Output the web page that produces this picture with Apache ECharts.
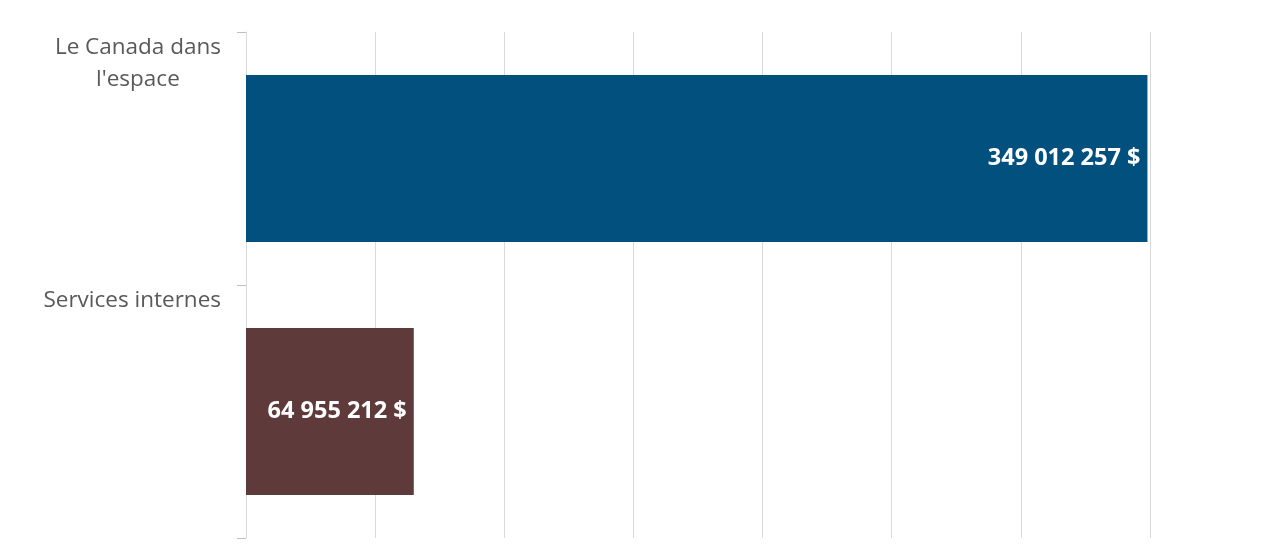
<!DOCTYPE html>
<html>
<head>
<meta charset="utf-8">
<script src="https://cdn.jsdelivr.net/npm/echarts@6/dist/echarts.min.js"></script>
<style>
  html, body { margin: 0; padding: 0; background: #fff; }
  #chart { width: 1280px; height: 560px; }
</style>
</head>
<body>
<div id="chart"></div>
<script>
var categories = ["Le Canada dans\nl'espace", 'Services internes'];
var values = [349012257, 64955212];
var barColors = ['#01507e', '#5e3a3b'];

function fmtDollars(v) {
    return String(v).replace(/\B(?=(\d{3})+(?!\d))/g, ' ') + ' $';
}

var myChart = echarts.init(document.getElementById('chart'));

var option = {
    animation: false,
    grid: { left: 246, right: 130, top: 32, bottom: 22 },
    xAxis: {
        type: 'value',
        min: 0,
        max: 350000000,
        interval: 50000000,
        axisLabel: { show: false },
        axisLine: { show: false },
        axisTick: { show: false },
        splitLine: { lineStyle: { color: '#d9d9d9', width: 1 } }
    },
    yAxis: {
        type: 'category',
        inverse: true,
        data: categories,
        axisLine: { show: true, lineStyle: { color: '#d9d9d9' } },
        axisTick: { show: true, length: 9, lineStyle: { color: '#bfbfbf' } },
        axisLabel: {
            margin: 25,
            verticalAlign: 'bottom',
            hideOverlap: false,
            formatter: function (v, i) {
                // lines of the name, then a blank spacer that lifts the text to the top of its band
                var lines = v.split('\n').map(function (s) { return '{c|' + s + '}'; });
                lines.push(i === 0 ? '{s1| }' : '{s2| }');
                return lines.join('\n');
            },
            rich: {
                c: { align: 'center', fontFamily: 'Open Sans', fontSize: 22.5, lineHeight: 32, color: '#595959' },
                s1: { height: 63, lineHeight: 63, fontSize: 1 },
                s2: { height: 95, lineHeight: 95, fontSize: 1 }
            }
        }
    },
    series: [{
        type: 'bar',
        barWidth: '66%',
        data: values.map(function (v, i) {
            return { value: v, itemStyle: { color: barColors[i] } };
        }),
        label: {
            show: true,
            position: 'insideRight',
            distance: 7,
            color: '#fff',
            fontFamily: 'Open Sans',
            fontWeight: 'bold',
            fontSize: 23.5,
            formatter: function (p) { return fmtDollars(p.value); }
        }
    }]
};

myChart.setOption(option);
</script>
</body>
</html>
